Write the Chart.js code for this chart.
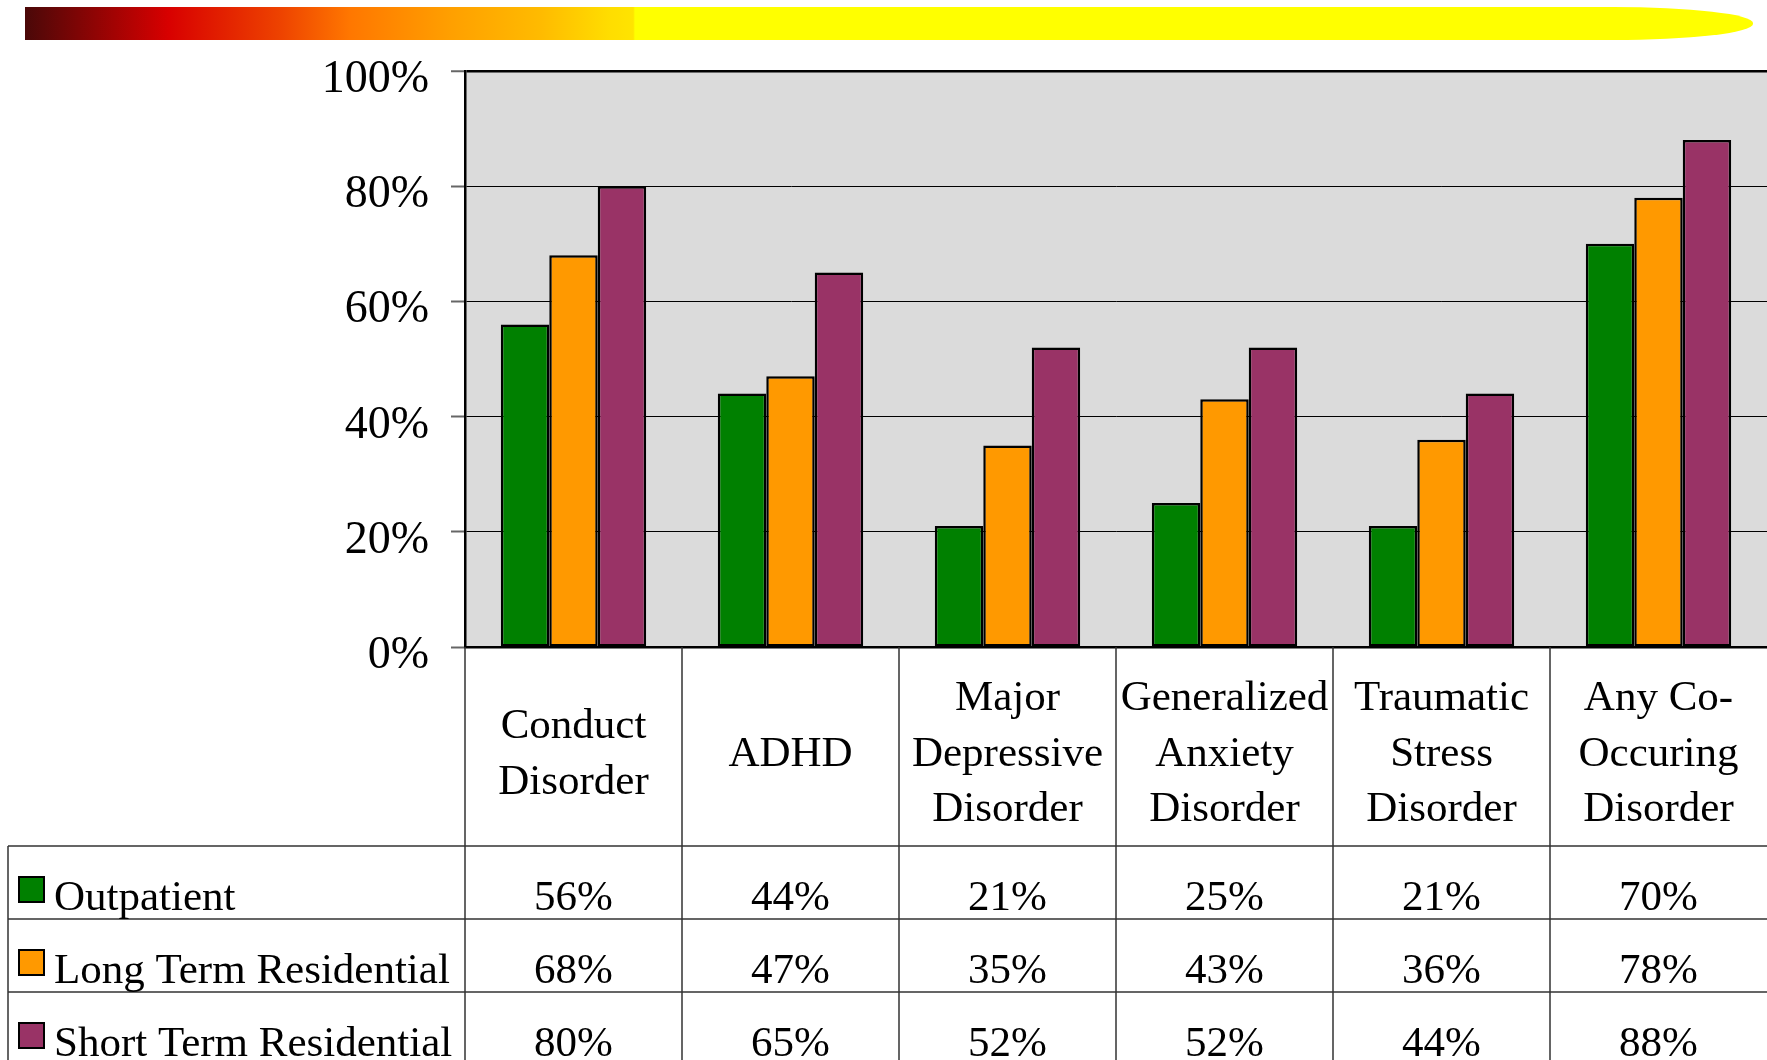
<!DOCTYPE html>
<html>
<head>
<meta charset="utf-8">
<script src="https://cdn.jsdelivr.net/npm/chart.js@4.4.1/dist/chart.umd.min.js"></script>
<style>
html,body{margin:0;padding:0;background:#fff;overflow:hidden;}
#wrap{position:relative;width:1767px;height:1060px;}
#topbar{position:absolute;left:25px;top:7px;width:1728px;height:33px;
background:linear-gradient(to right,#4a0808 0%,#d80000 8.3%,#ee4400 14.9%,#ff7700 18.8%,#ffa000 24.7%,#ffbb00 29.9%,#ffdd00 33.8%,#ffe400 35.2%,#ffff00 35.3%,#ffff00 100%);
border-top-right-radius:140px 16px;border-bottom-right-radius:140px 16px;}
canvas{position:absolute;left:0;top:0;}
</style>
</head>
<body>
<div id="wrap">
<div id="topbar"></div>
<canvas id="chart" width="1767" height="1060"></canvas>
</div>
<script>
window.addEventListener("load", () => {

/* ========= DATA ========= */

const categories=[
["Conduct","Disorder"],
["ADHD"],
["Major","Depressive","Disorder"],
["Generalized","Anxiety","Disorder"],
["Traumatic","Stress","Disorder"],
["Any Co-","Occuring","Disorder"]
];
const seriesNames=["Outpatient","Long Term Residential","Short Term Residential"];
const outpatient=[56,44,21,25,21,70];
const longTerm=[68,47,35,43,36,78];
const shortTerm=[80,65,52,52,44,88];
const yMin=0, yMax=100, yStep=20;
const colors=["#008000","#ff9900","#993366"];

const FONT="'Liberation Serif','Times New Roman',serif";

/* ========= PLUGINS ========= */

const plotBg={
id:"plotBg",
beforeDraw(chart){
const {ctx,chartArea:a}=chart;
ctx.save();
ctx.fillStyle="#dbdbdb";
ctx.fillRect(a.left,a.top,a.right-a.left,a.bottom-a.top);
ctx.restore();
}
};

// data table under the axis, legend keys in the first column
const dataTable={
id:"dataTable",
afterDraw(chart){
const {ctx,chartArea:a,scales:{x}}=chart;
const H=chart.height;
const half=(x.getPixelForValue(1)-x.getPixelForValue(0))/2;
const rowTop=[846,919,992];
const tableLeft=8;

ctx.save();
ctx.strokeStyle="#333";
ctx.lineWidth=1.5;
ctx.beginPath();
for(let i=0;i<categories.length;i++){
const px=Math.round(x.getPixelForValue(i)-half);
ctx.moveTo(px,a.bottom);
ctx.lineTo(px,H);
}
rowTop.forEach(y=>{
ctx.moveTo(tableLeft,y);
ctx.lineTo(chart.width,y);
});
ctx.moveTo(tableLeft,rowTop[0]);
ctx.lineTo(tableLeft,H);
ctx.stroke();

ctx.font="43px "+FONT;
ctx.fillStyle="#000";
ctx.textBaseline="alphabetic";
chart.data.datasets.forEach((ds,r)=>{
const base=rowTop[r]+64;
// key
ctx.fillStyle=ds.backgroundColor;
ctx.fillRect(19,base-33,25,25);
ctx.lineWidth=2;
ctx.strokeStyle="#000";
ctx.strokeRect(19,base-33,25,25);
ctx.fillStyle="#000";
ctx.textAlign="left";
ctx.fillText(ds.label,54,base);
ctx.textAlign="center";
ds.data.forEach((v,i)=>{
ctx.fillText(v+"%",x.getPixelForValue(i),base);
});
});
ctx.restore();
}
};

/* ========= CHART ========= */

const ctx=document.getElementById("chart").getContext("2d");

new Chart(ctx,{
type:"bar",
data:{
labels:categories,
datasets:[
{label:seriesNames[0],data:outpatient,backgroundColor:colors[0]},
{label:seriesNames[1],data:longTerm,backgroundColor:colors[1]},
{label:seriesNames[2],data:shortTerm,backgroundColor:colors[2]}
].map(d=>Object.assign(d,{borderColor:"#000",borderWidth:2.5,borderSkipped:false,categoryPercentage:0.67,barPercentage:1}))
},
options:{
responsive:false,
animation:false,
layout:{padding:{top:71,left:0,right:0,bottom:0}},
plugins:{
legend:{display:false},
tooltip:{enabled:false}
},
scales:{
x:{
afterFit(s){s.height=413;},
border:{display:true,color:"#000",width:2.5},
grid:{drawOnChartArea:false,drawTicks:true,tickLength:52,tickColor:"rgba(0,0,0,0)"},
ticks:{
color:"#000",
font:{family:FONT,size:43,lineHeight:1.29},
padding:0,
autoSkip:false,
maxRotation:0,
minRotation:0,
crossAlign:"center"
}
},
y:{
min:yMin,
max:yMax,
afterFit(s){s.width=465;},
border:{display:true,color:"#000",width:2.5},
grid:{
color:"#000",
lineWidth:c=>c.tick && c.tick.value===yMax?2.5:1,
tickColor:"#666",
tickLength:14,
tickWidth:2
},
ticks:{
stepSize:yStep,
color:"#000",
font:{family:FONT,size:46},
padding:22,
labelOffset:9,
callback:v=>v+"%"
}
}
}
},
plugins:[plotBg,dataTable]
});

});
</script>
</body>
</html>
